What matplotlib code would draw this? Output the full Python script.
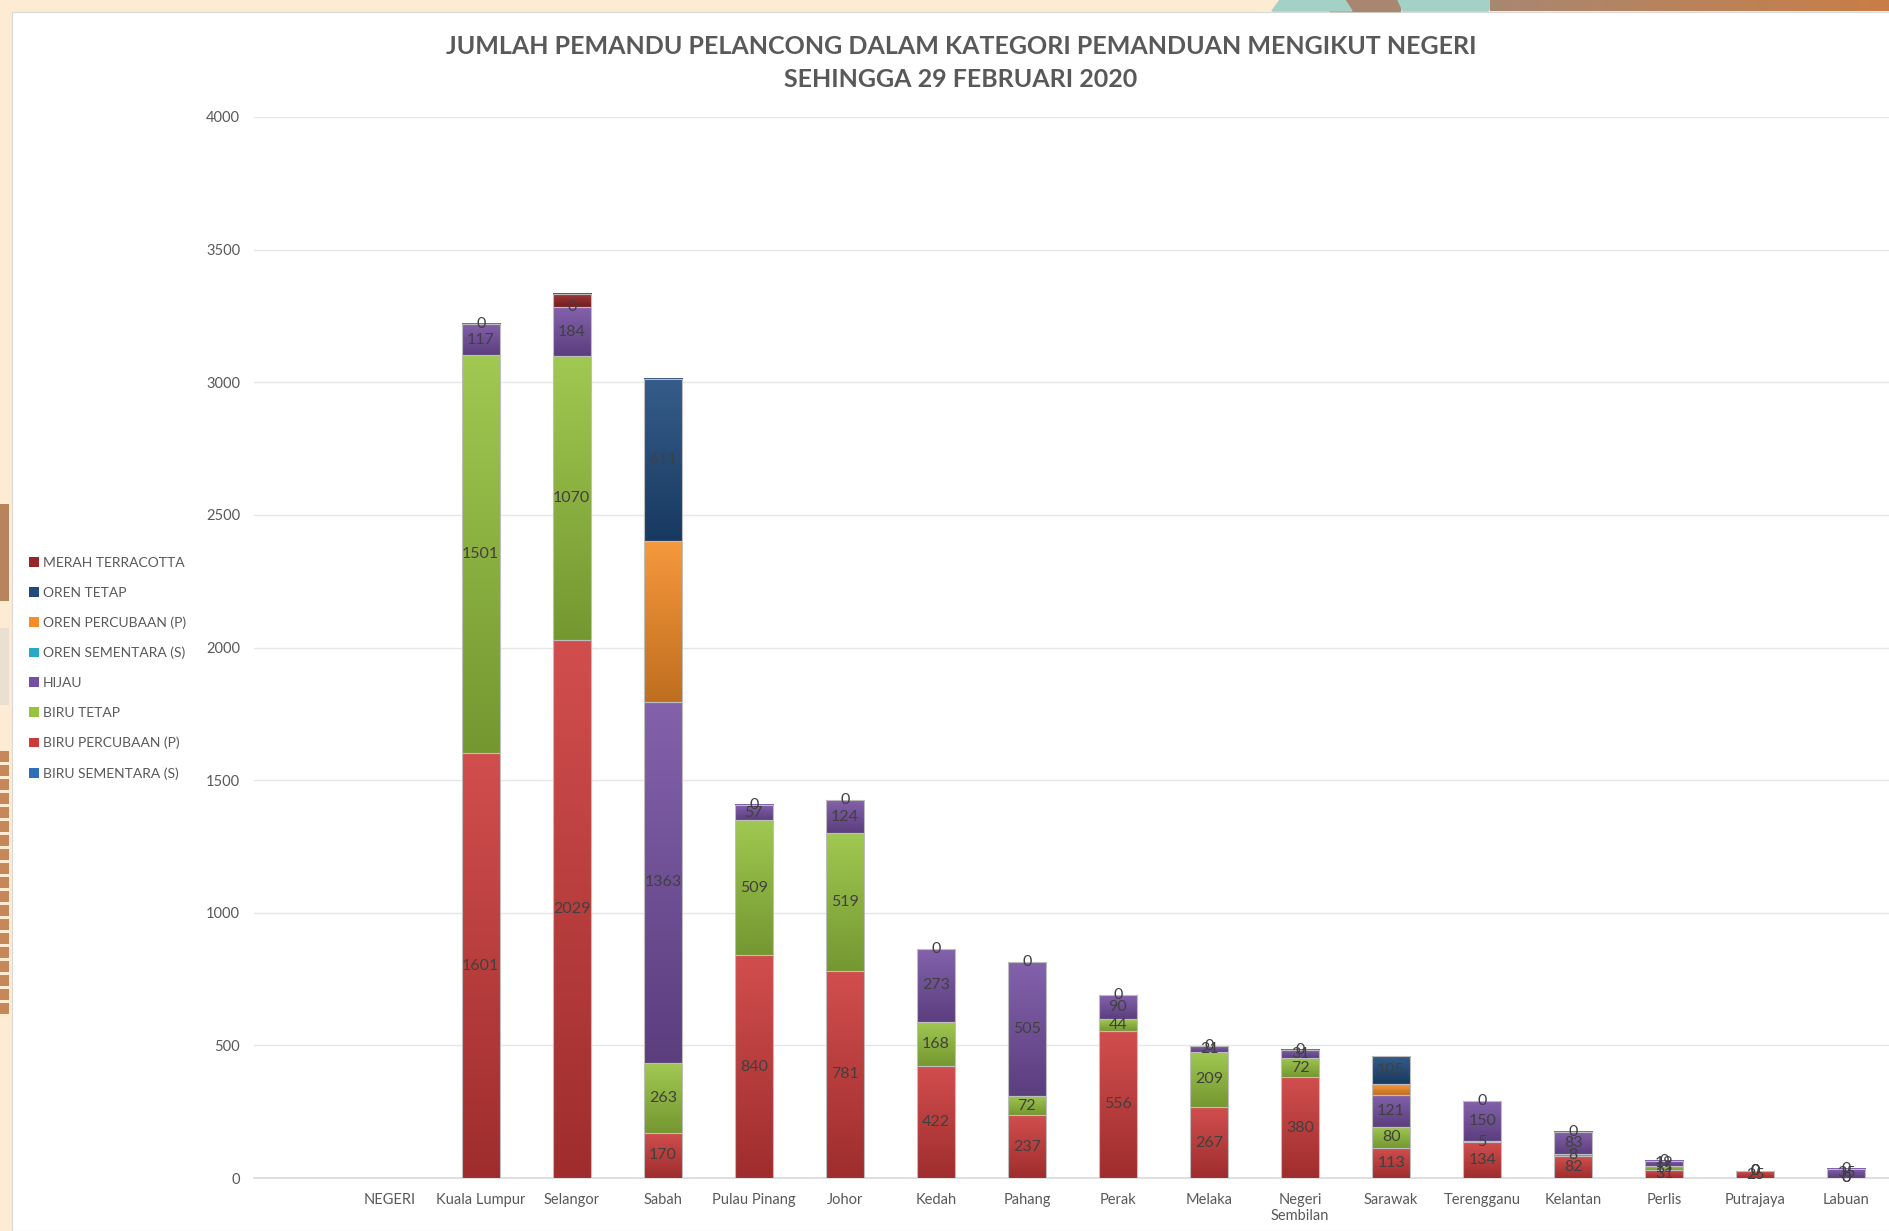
import numpy as np
import matplotlib
matplotlib.use("Agg")
from matplotlib import pyplot as plt
from matplotlib.patches import Rectangle, Polygon
from matplotlib.colors import to_rgb

plt.rcParams['font.family'] = ['Lato', 'DejaVu Sans']

# data
negeri = ['NEGERI', 'Kuala Lumpur', 'Selangor', 'Sabah', 'Pulau Pinang', 'Johor',
          'Kedah', 'Pahang', 'Perak', 'Melaka', 'Negeri\nSembilan', 'Sarawak',
          'Terengganu', 'Kelantan', 'Perlis', 'Putrajaya', 'Labuan']
biru_sementara = [0, 0, 0, 0, 0, 0, 0, 0, 0, 0, 0, 0, 0, 0, 0, 0, 0]
biru_percubaan = [0, 1601, 2029, 170, 840, 781, 422, 237, 556, 267, 380, 113, 134, 82, 31, 25, 0]
biru_tetap = [0, 1501, 1070, 263, 509, 519, 168, 72, 44, 209, 72, 80, 5, 8, 15, 0, 0]
hijau = [0, 117, 184, 1363, 57, 124, 273, 505, 90, 21, 31, 121, 150, 83, 19, 0, 35]
oren_sementara = [0, 0, 0, 0, 0, 0, 0, 0, 0, 0, 0, 0, 0, 0, 0, 0, 0]
oren_percubaan = [0, 0, 0, 605, 0, 0, 0, 0, 0, 0, 0, 40, 0, 0, 0, 0, 0]
oren_tetap = [0, 0, 0, 611, 0, 0, 0, 0, 0, 0, 0, 105, 0, 0, 0, 0, 0]
merah_terracotta = [0, 0, 50, 0, 0, 0, 0, 0, 0, 0, 0, 0, 0, 0, 0, 0, 0]

# (nama, nilai, warna, label?)
siri = [
    ('BIRU SEMENTARA (S)', biru_sementara, '#2F6FBA', False),
    ('BIRU PERCUBAAN (P)', biru_percubaan, '#CC3A3A', True),
    ('BIRU TETAP', biru_tetap, '#96C23E', True),
    ('HIJAU', hijau, '#7550A2', True),
    ('OREN SEMENTARA (S)', oren_sementara, '#2CA8C7', True),
    ('OREN PERCUBAAN (P)', oren_percubaan, '#F58D28', False),
    ('OREN TETAP', oren_tetap, '#1F4A7C', True),
    ('MERAH TERRACOTTA', merah_terracotta, '#962626', False),
]

fig = plt.figure(figsize=(18.9, 12.31), dpi=100)
fig.patch.set_facecolor('#FDEBD3')
W, H = 1890, 1231

def px(x, y):
    return (x / W, (H - y) / H)

# panel putih + hiasan latar (di belakang paksi)
fig.patches.append(Rectangle((12 / W, 0), 1, (H - 12) / H, transform=fig.transFigure,
                             facecolor='white', edgecolor='#D9D9D9', lw=0.8, zorder=-2))
fig.patches.append(Polygon([px(1317, 0), px(1400, 0), px(1400, 11), px(1330, 11)],
                           closed=True, transform=fig.transFigure, color='#A8866F', zorder=-1))
fig.patches.append(Polygon([px(1280, 0), px(1345, 0), px(1352, 11), px(1272, 11)],
                           closed=True, transform=fig.transFigure, color='#A3D1C6', zorder=-1))
fig.patches.append(Polygon([px(1398, 0), px(1495, 0), px(1488, 11), px(1403, 11)],
                           closed=True, transform=fig.transFigure, color='#A3D1C6', zorder=-1))
grad = np.linspace(0, 1, 40)
for i, g in enumerate(grad[:-1]):
    x0 = 1490 + (W - 1490) * g
    x1 = 1490 + (W - 1490) * grad[i + 1]
    c = np.array([0.66, 0.53, 0.44]) * (1 - g) + np.array([0.79, 0.49, 0.27]) * g
    fig.patches.append(Rectangle(px(x0, 11), (x1 - x0) / W, 11 / H, transform=fig.transFigure,
                                 color=c, lw=0, zorder=-1))
fig.patches.append(Rectangle(px(0, 601), 9 / W, 97 / H, transform=fig.transFigure,
                             color='#B8845E', lw=0, zorder=-1))
fig.patches.append(Rectangle(px(0, 705), 9 / W, 77 / H, transform=fig.transFigure,
                             color='#EAE0CF', lw=0, zorder=-1))
for y in range(751, 1012, 14):
    fig.patches.append(Rectangle(px(0, y + 11), 9 / W, 11 / H, transform=fig.transFigure,
                                 color='#C6875A', lw=0, zorder=-1))

ax = fig.add_axes([254 / W, 53 / H, 1 - 254 / W, (1178 - 117) / H])
ax.set_facecolor('none')
ax.set_zorder(2)

lebar = 0.42
x = np.arange(len(negeri))
jumlah = np.sum([s[1] for s in siri], axis=0)
bawah = np.zeros(len(negeri))
atas_oren = np.array(oren_percubaan) + np.array(oren_tetap)
for nama, nilai, warna, ada_label in siri:
    nilai = np.array(nilai, dtype=float)
    lw = [0.8 if v > 0 else 0 for v in nilai]
    bars = ax.bar(x, nilai, lebar, bottom=bawah, color=warna, edgecolor='none',
                  linewidth=0, label=nama, zorder=3)
    # kesan kilat: gradien menegak setiap segmen
    rgb = np.array(to_rgb(warna))
    terang = rgb + (1 - rgb) * 0.1
    gelap = rgb * 0.78
    t = np.linspace(0, 1, 64)[:, None]
    warna_g = gelap * (1 - t) + terang * t
    img = np.concatenate([warna_g, np.ones((64, 1))], axis=1)[:, None, :]
    for i, v in enumerate(nilai):
        if v > 0:
            ax.imshow(img, extent=(x[i] - lebar / 2, x[i] + lebar / 2, bawah[i], bawah[i] + v),
                      origin='lower', aspect='auto', zorder=3.1, interpolation='bilinear')
    ax.bar(x, nilai, lebar, bottom=bawah, fill=False, edgecolor='#BDBDBD',
           linewidth=lw, zorder=3.3)
    if ada_label:
        teks = []
        for i, v in enumerate(nilai):
            if jumlah[i] == 0:
                teks.append('')
            elif v > 0:
                teks.append(str(int(v)))
            elif nama == 'OREN SEMENTARA (S)':
                teks.append('0' if atas_oren[i] == 0 else '')
            elif nama == 'OREN TETAP':
                teks.append('')
            else:
                teks.append('0')
        ax.bar_label(bars, labels=teks, label_type='center', fontsize=11.5,
                     color='#404040', zorder=4)
    bawah += nilai

ax.set_xlim(-1.49, 16.48)
ax.set_ylim(0, 4000)
ax.set_yticks(range(0, 4001, 500))
ax.grid(axis='y', color='#E6E6E6', linewidth=1, zorder=0)
ax.set_axisbelow(True)
ax.set_xticks(x)
ax.set_xticklabels(negeri, fontsize=10.5, color='#595959')
ax.tick_params(axis='y', labelsize=10.5, labelcolor='#595959', length=0, pad=10)
ax.tick_params(axis='x', length=0, pad=11)
for s in ['top', 'right', 'left']:
    ax.spines[s].set_visible(False)
ax.spines['bottom'].set_color('#D9D9D9')
ax.spines['bottom'].set_linewidth(1.2)

h, l = ax.get_legend_handles_labels()
fig.legend(h[::-1], l[::-1], loc='upper left', bbox_to_anchor=(22 / W, (H - 550) / H),
           frameon=False, fontsize=10, labelcolor='#595959', handlelength=0.7,
           handleheight=0.7, handletextpad=0.3, labelspacing=1.28, borderpad=0)

fig.text(961 / W, (H - 63) / H, 'JUMLAH PEMANDU PELANCONG DALAM KATEGORI PEMANDUAN MENGIKUT NEGERI\nSEHINGGA 29 FEBRUARI 2020',
         ha='center', va='center', fontsize=18, fontweight='bold', color='#595959',
         linespacing=1.55)

fig.savefig('out.png', dpi=100, facecolor=fig.get_facecolor())
